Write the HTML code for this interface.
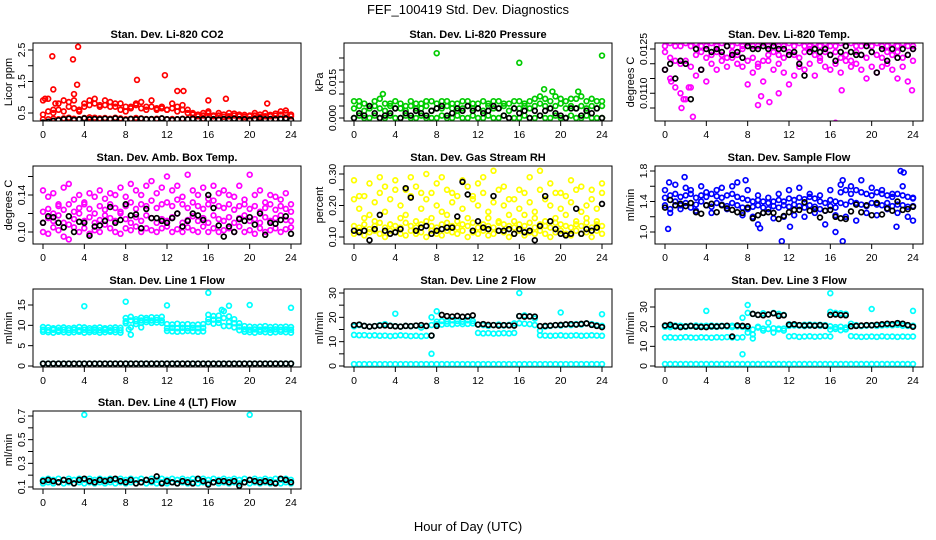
<!DOCTYPE html>
<html><head><meta charset="utf-8">
<style>
html,body{margin:0;padding:0;background:#fff;}
svg{display:block;font-family:"Liberation Sans",sans-serif;}
</style></head>
<body>
<svg id="chart" width="936" height="540" viewBox="0 0 936 540" xmlns="http://www.w3.org/2000/svg">
<rect x="0" y="0" width="936" height="540" fill="#fff"/>
<text x="468" y="14" font-size="13" text-anchor="middle">FEF_100419  Std. Dev. Diagnostics</text>
<text x="468" y="531" font-size="13" text-anchor="middle">Hour of Day (UTC)</text>
</svg>
<script>
const hours=[0,0.5,1,1.5,2,2.5,3,3.5,4,4.5,5,5.5,6,6.5,7,7.5,8,8.5,9,9.5,10,10.5,11,11.5,12,12.5,13,13.5,14,14.5,15,15.5,16,16.5,17,17.5,18,18.5,19,19.5,20,20.5,21,21.5,22,22.5,23,23.5,24];
const xTicks=[0,4,8,12,16,20,24];

// CO2
const co2Low=[0.3,0.3,0.32,0.3,0.33,0.35,0.32,0.3,0.34,0.36,0.35,0.33,0.34,0.32,0.35,0.33,0.3,0.32,0.34,0.33,0.31,0.3,0.32,0.33,0.3,0.31,0.3,0.32,0.3,0.31,0.3,0.32,0.3,0.31,0.3,0.29,0.3,0.31,0.3,0.32,0.3,0.31,0.3,0.29,0.3,0.31,0.3,0.3,0.28];
const co2Mid=[0.45,0.55,0.5,0.6,0.55,0.7,0.65,0.6,0.7,0.75,0.8,0.7,0.75,0.85,0.7,0.8,0.55,0.7,0.75,0.65,0.6,0.7,0.65,0.7,0.6,0.65,0.55,0.6,0.5,0.45,0.4,0.42,0.5,0.4,0.42,0.38,0.4,0.42,0.4,0.38,0.4,0.42,0.38,0.4,0.4,0.42,0.45,0.5,0.4];
const co2High=[0.9,0.95,0.6,0.8,0.9,0.85,0.9,0.55,0.8,0.9,0.95,0.75,0.9,0.7,0.8,0.6,0.7,0.65,0.8,0.85,0.7,0.9,0.6,0.65,0.6,0.8,0.7,0.75,0.6,0.5,0.45,0.5,0.55,0.42,0.5,0.45,0.5,0.48,0.45,0.44,0.42,0.5,0.45,0.5,0.44,0.48,0.55,0.58,0.45];
const co2OutX=[0.9,2.9,3.4,1.0,9.1,11.8,13.0,13.6,3.3,0.2,16.0,17.7,21.7,3.0,1.2];
const co2OutY=[2.3,2.2,2.6,1.25,1.55,1.7,1.2,1.2,1.4,0.95,0.9,0.95,0.8,1.1,0.8];
const co2Black=[0.2,0.22,0.25,0.27,0.3,0.32,0.28,0.3,0.33,0.3,0.31,0.3,0.32,0.3,0.33,0.3,0.28,0.31,0.3,0.32,0.3,0.31,0.3,0.33,0.3,0.28,0.3,0.31,0.3,0.32,0.3,0.31,0.3,0.3,0.29,0.31,0.3,0.32,0.3,0.3,0.28,0.31,0.33,0.3,0.31,0.3,0.32,0.33,0.28];

// Pressure
const presLow=[0,0.001,0,0,0.001,0,0,0.001,0,0,0.001,0,0,0.001,0,0,0,0.001,0,0,0.001,0,0,0.001,0,0,0.001,0,0,0.001,0,0,0,0.001,0,0,0.001,0,0,0.001,0,0,0.001,0,0,0.001,0,0,0];
const presMid=[0.004,0.005,0.003,0.004,0.005,0.004,0.003,0.005,0.004,0.004,0.003,0.005,0.004,0.004,0.005,0.003,0.004,0.004,0.005,0.004,0.003,0.004,0.005,0.004,0.004,0.003,0.005,0.004,0.004,0.005,0.003,0.004,0.004,0.005,0.004,0.005,0.006,0.005,0.004,0.005,0.006,0.004,0.005,0.004,0.005,0.004,0.005,0.004,0.005];
const presHigh=[0.007,0.007,0.006,0.005,0.007,0.008,0.006,0.006,0.007,0.006,0.005,0.007,0.006,0.006,0.007,0.007,0.006,0.007,0.007,0.006,0.006,0.007,0.007,0.006,0.006,0.007,0.006,0.007,0.007,0.006,0.006,0.007,0.007,0.006,0.007,0.008,0.009,0.008,0.007,0.009,0.008,0.007,0.008,0.008,0.009,0.007,0.008,0.007,0.007];
const presOutX=[8,16,24,2.8,18.4,21.7,19.2];
const presOutY=[0.027,0.023,0.026,0.010,0.012,0.011,0.011];
const presBlack=[0,0.002,0.001,0.005,0.002,0,0.001,0.002,0.004,0,0.002,0.001,0.003,0.002,0.001,0.003,0.004,0.005,0.001,0.002,0.004,0.003,0.005,0.003,0.004,0.002,0.003,0.005,0.004,0.001,0,0.004,0.002,0.003,0,0.003,0.001,0.003,0.004,0.002,0.001,0,0.004,0.004,0.001,0.003,0.002,0.004,0];

// Li-820 Temp
const tempTop=[0.0126,0.0127,0.0126,0.0126,0.0127,0.0126,0.0127,0.0126,0.0126,0.0127,0.0126,0.0127,0.0126,0.0126,0.0127,0.0126,0.0127,0.0126,0.0126,0.0127,0.0126,0.0127,0.0126,0.0126,0.0127,0.0126,0.0127,0.0126,0.0126,0.0127,0.0126,0.0127,0.0126,0.0126,0.0127,0.0126,0.0127,0.0126,0.0126,0.0127,0.0126,0.0127,0.0126,0.0126,0.0127,0.0126,0.0127,0.0126,0.0126];
const tempMid=[0.0124,0.0122,0.0121,0.0120,0.0121,0.0119,0.0123,0.0124,0.0122,0.0123,0.0124,0.0123,0.0122,0.0124,0.0123,0.0125,0.0121,0.0122,0.0120,0.0121,0.0123,0.0124,0.0123,0.0122,0.0124,0.0123,0.0122,0.0124,0.0125,0.0123,0.0122,0.0124,0.0123,0.0124,0.0122,0.0123,0.0121,0.0124,0.0123,0.0122,0.0124,0.0123,0.0122,0.0124,0.0123,0.0124,0.0122,0.0123,0.0125];
const tempLow=[0.0118,0.0115,0.0112,0.0110,0.0108,0.0112,0.0116,0.0118,0.0114,0.0120,0.0118,0.0121,0.0119,0.0122,0.0120,0.0119,0.0113,0.0117,0.0119,0.0114,0.0121,0.0118,0.0120,0.0117,0.0113,0.0116,0.0119,0.0118,0.0120,0.0116,0.0121,0.0119,0.0118,0.0120,0.0117,0.0121,0.0119,0.0120,0.0118,0.0115,0.0119,0.0117,0.0119,0.0120,0.0118,0.0115,0.0119,0.0114,0.0121];
const tempOutX=[1.6,2.7,1.8,16.5,9.0,9.3,10.1,23.9,17.1,2.3,0.6,11.0];
const tempOutY=[0.0105,0.0102,0.0108,0.0100,0.0106,0.0109,0.0107,0.0111,0.0111,0.0112,0.0114,0.0110];
const tempBlack=[0.0118,0.0120,0.0115,0.0121,0.0120,0.0108,0.0125,0.0118,0.0125,0.0124,0.0125,0.0124,0.0126,0.0123,0.0124,0.0122,0.0126,0.0125,0.0125,0.0126,0.0125,0.0126,0.0125,0.0125,0.0123,0.0124,0.0120,0.0116,0.0124,0.0125,0.0124,0.0125,0.0123,0.0121,0.0124,0.0126,0.0124,0.0123,0.0123,0.0126,0.0124,0.0117,0.0125,0.0121,0.0125,0.0122,0.0125,0.0123,0.0125];

// Amb box temp
const boxA=[0.11,0.115,0.112,0.118,0.11,0.108,0.114,0.12,0.112,0.116,0.11,0.113,0.118,0.115,0.112,0.12,0.114,0.11,0.116,0.112,0.118,0.115,0.11,0.114,0.112,0.116,0.12,0.11,0.113,0.117,0.112,0.115,0.11,0.118,0.114,0.112,0.116,0.11,0.115,0.118,0.112,0.114,0.11,0.116,0.112,0.115,0.118,0.113,0.112];
const boxB=[0.122,0.125,0.12,0.128,0.124,0.13,0.122,0.126,0.13,0.125,0.12,0.128,0.124,0.13,0.126,0.122,0.128,0.132,0.125,0.13,0.128,0.134,0.126,0.13,0.132,0.128,0.135,0.13,0.126,0.132,0.128,0.125,0.13,0.134,0.128,0.126,0.13,0.124,0.128,0.13,0.125,0.128,0.122,0.126,0.13,0.124,0.128,0.125,0.122];
const boxC=[0.145,0.138,0.142,0.13,0.148,0.152,0.135,0.14,0.132,0.142,0.138,0.145,0.136,0.142,0.14,0.148,0.138,0.152,0.145,0.14,0.15,0.155,0.142,0.148,0.16,0.145,0.15,0.138,0.162,0.145,0.14,0.148,0.136,0.15,0.142,0.145,0.14,0.138,0.15,0.135,0.162,0.14,0.145,0.132,0.14,0.138,0.135,0.142,0.13];
const boxD=[0.1,0.098,0.105,0.102,0.095,0.092,0.105,0.1,0.104,0.098,0.102,0.1,0.108,0.104,0.1,0.098,0.104,0.102,0.106,0.1,0.104,0.102,0.1,0.104,0.106,0.1,0.103,0.1,0.105,0.102,0.1,0.106,0.1,0.104,0.1,0.102,0.104,0.1,0.106,0.1,0.102,0.098,0.104,0.1,0.102,0.104,0.1,0.103,0.105];
const boxBlack=[0.11,0.117,0.116,0.11,0.105,0.117,0.1,0.111,0.11,0.096,0.106,0.107,0.112,0.127,0.11,0.113,0.13,0.118,0.119,0.104,0.125,0.115,0.115,0.112,0.11,0.115,0.12,0.106,0.112,0.12,0.118,0.113,0.14,0.126,0.107,0.095,0.106,0.1,0.114,0.112,0.116,0.108,0.12,0.097,0.11,0.109,0.113,0.117,0.098];

// Gas stream RH
const rhA=[0.11,0.12,0.105,0.115,0.12,0.11,0.1,0.12,0.115,0.11,0.105,0.12,0.11,0.115,0.1,0.12,0.11,0.105,0.12,0.115,0.11,0.12,0.1,0.115,0.11,0.12,0.105,0.11,0.12,0.115,0.1,0.11,0.12,0.105,0.115,0.11,0.12,0.11,0.1,0.115,0.12,0.11,0.105,0.12,0.11,0.115,0.1,0.12,0.11];
const rhB=[0.135,0.13,0.14,0.125,0.135,0.145,0.13,0.14,0.135,0.13,0.145,0.135,0.13,0.14,0.15,0.135,0.13,0.14,0.145,0.135,0.13,0.14,0.135,0.145,0.13,0.14,0.135,0.13,0.145,0.14,0.135,0.13,0.14,0.135,0.145,0.13,0.14,0.135,0.13,0.145,0.14,0.135,0.13,0.14,0.135,0.145,0.13,0.14,0.135];
const rhC=[0.22,0.19,0.23,0.17,0.21,0.24,0.18,0.22,0.25,0.2,0.17,0.23,0.26,0.19,0.22,0.24,0.2,0.18,0.25,0.21,0.23,0.19,0.26,0.22,0.2,0.24,0.18,0.21,0.25,0.2,0.17,0.22,0.19,0.24,0.21,0.18,0.25,0.22,0.2,0.24,0.19,0.23,0.21,0.25,0.18,0.2,0.22,0.19,0.24];
const rhD=[0.28,0.23,0.16,0.27,0.15,0.29,0.26,0.14,0.28,0.16,0.25,0.29,0.15,0.24,0.3,0.16,0.27,0.29,0.17,0.24,0.15,0.28,0.16,0.23,0.27,0.29,0.16,0.31,0.15,0.26,0.22,0.15,0.25,0.17,0.29,0.16,0.31,0.15,0.27,0.16,0.24,0.17,0.28,0.15,0.26,0.16,0.25,0.15,0.27];
const rhBlack=[0.12,0.115,0.12,0.09,0.125,0.17,0.12,0.11,0.115,0.125,0.255,0.225,0.12,0.13,0.135,0.11,0.12,0.125,0.13,0.13,0.165,0.275,0.235,0.12,0.15,0.13,0.125,0.23,0.12,0.12,0.125,0.11,0.125,0.115,0.12,0.09,0.135,0.23,0.15,0.125,0.11,0.105,0.11,0.19,0.11,0.125,0.12,0.13,0.205];

// Sample flow
const sfA=[1.35,1.3,1.4,1.35,1.38,1.32,1.36,1.4,1.35,1.33,1.38,1.36,1.34,1.38,1.35,1.32,1.3,1.33,1.35,1.32,1.3,1.34,1.32,1.35,1.33,1.36,1.34,1.32,1.35,1.33,1.3,1.28,1.34,1.32,1.38,1.36,1.4,1.38,1.36,1.34,1.38,1.36,1.35,1.38,1.34,1.36,1.35,1.33,1.34];
const sfB=[1.45,1.48,1.5,1.46,1.48,1.5,1.45,1.48,1.46,1.5,1.47,1.45,1.48,1.5,1.46,1.44,1.42,1.4,1.42,1.4,1.38,1.4,1.42,1.4,1.44,1.42,1.45,1.43,1.46,1.44,1.4,1.38,1.42,1.4,1.52,1.55,1.5,1.55,1.52,1.5,1.48,1.52,1.5,1.48,1.46,1.5,1.48,1.46,1.44];
const sfC=[1.55,1.25,1.62,1.3,1.58,1.55,1.28,1.6,1.52,1.25,1.55,1.58,1.3,1.6,1.65,1.22,1.55,1.2,1.48,1.25,1.45,1.18,1.5,1.2,1.55,1.22,1.58,1.2,1.5,1.25,1.48,1.1,1.55,1.22,1.62,1.2,1.6,1.15,1.68,1.25,1.58,1.22,1.55,1.3,1.5,1.25,1.6,1.2,1.45];
const sfOutX=[0.3,1.9,7.8,9.2,11.3,12.1,16.5,17.2,17.2,22.4,22.8,23.1,24,0.4,9.0];
const sfOutY=[1.04,1.72,1.68,1.05,0.88,1.07,1.0,0.88,1.68,1.07,1.8,1.78,1.15,1.65,1.1];
const sfBlack=[1.32,1.42,1.35,1.37,1.34,1.38,1.26,1.24,1.35,1.37,1.26,1.35,1.31,1.29,1.26,1.25,1.32,1.18,1.22,1.25,1.26,1.25,1.17,1.21,1.26,1.29,1.29,1.39,1.28,1.3,1.19,1.28,1.29,1.2,1.18,1.17,1.27,1.36,1.26,1.35,1.22,1.38,1.23,1.31,1.28,1.4,1.29,1.3,1.33];

// Line 1
const l1Up=[9.6,9.5,9.3,9.4,9.5,9.3,9.4,9.6,9.5,9.3,9.4,9.5,9.3,9.4,9.5,9.4,11.8,12.1,11.5,11.9,11.8,12,11.9,12.1,10.3,10.2,10.4,10.2,10.3,10.1,10.2,10.3,12.6,12.3,12.4,13.5,12.2,11.5,10.5,9.8,9.7,9.6,9.7,9.8,9.6,9.7,9.6,9.7,9.6];
const l1Mid=[8.9,8.8,8.9,8.8,8.9,8.8,8.9,8.8,8.9,8.8,8.9,8.8,8.9,8.8,8.9,8.8,11,11.2,11,11.2,11.3,11.2,11.3,11.2,9.3,9.4,9.3,9.4,9.3,9.4,9.3,9.4,11.5,11.4,11.3,11.8,10.8,10.5,9.7,9,8.9,9,8.9,9,8.9,9,8.9,9,8.9];
const l1Low=[8.4,8.3,8.2,8.4,8.3,8.2,8.3,8.4,8.2,8.3,8.4,8.2,8.3,8.4,8.3,8.2,10.5,9.5,10.3,10.6,10.8,10.6,10.7,10.6,8.6,8.5,8.4,8.5,8.6,8.5,8.4,8.5,10.8,10.4,10.6,9.8,9.8,9.5,8.8,8.4,8.3,8.2,8.4,8.3,8.2,8.3,8.4,8.3,8.2];
const l1Base=[0.6,0.6,0.6,0.6,0.6,0.6,0.6,0.6,0.6,0.6,0.6,0.6,0.6,0.6,0.6,0.6,0.6,0.6,0.6,0.6,0.6,0.6,0.6,0.6,0.6,0.6,0.6,0.6,0.6,0.6,0.6,0.6,0.6,0.6,0.6,0.6,0.6,0.6,0.6,0.6,0.6,0.6,0.6,0.6,0.6,0.6,0.6,0.6,0.6];
const l1OutX=[4,8,12,16,18,20,24,8.3,8.5,17.3,9.5];
const l1OutY=[14.7,15.8,14.9,18,14.8,15,14.3,9,7.7,13.8,9.5];
const l1Black=[0.6,0.6,0.6,0.6,0.6,0.6,0.6,0.6,0.6,0.6,0.6,0.6,0.6,0.6,0.6,0.6,0.6,0.6,0.6,0.6,0.6,0.6,0.6,0.6,0.6,0.6,0.6,0.6,0.6,0.6,0.6,0.6,0.6,0.6,0.6,0.6,0.6,0.6,0.6,0.6,0.6,0.6,0.6,0.6,0.6,0.6,0.6,0.6,0.6];

// Line 2
const l2Low=[12.8,12.6,12.7,12.5,12.6,12.4,12.5,12.3,12.4,12.6,12.5,12.3,12.4,12.2,12.4,12.5,17.2,17,17.3,17.1,17.4,17.2,17.3,17.5,13.6,13.4,13.5,13.3,13.4,13.5,13.4,13.6,17.6,17.4,17.2,16.8,12.6,12.5,12.4,12.5,12.6,12.4,12.5,12.6,12.4,12.5,12.6,12.5,12.4];
const l2Up=[16.3,16.8,16.5,16.2,16.4,16.8,17.2,16.6,16.4,16.2,16.5,16.3,16.6,15.8,16.4,16.8,18.2,18.5,18.3,18.8,18.5,18.2,18.8,18.5,17,16.8,16.5,16.8,17,16.6,16.9,17.5,20.5,20.8,20.4,19.5,14.5,16.2,16.5,16.8,16.6,17,16.8,17.2,17,17.5,17.2,16.8,16.5];
const l2Base=[0.8,0.8,0.8,0.8,0.8,0.8,0.8,0.8,0.8,0.8,0.8,0.8,0.8,0.8,0.8,0.8,0.8,0.8,0.8,0.8,0.8,0.8,0.8,0.8,0.8,0.8,0.8,0.8,0.8,0.8,0.8,0.8,0.8,0.8,0.8,0.8,0.8,0.8,0.8,0.8,0.8,0.8,0.8,0.8,0.8,0.8,0.8,0.8,0.8];
const l2OutX=[4,7.5,7.5,8,16,20,24];
const l2OutY=[21.5,5,20,22.5,30,22,21.3];
const l2Black=[16.8,17,16.5,16.2,16.4,16.6,16.7,16.5,16.3,16.2,16.5,16.4,16.6,16.8,16.5,12.5,16.5,21,20.5,20.3,20.6,20.2,20.4,20.8,17,17.2,16.9,16.8,16.6,16.8,16.7,16.6,20.5,20.3,20.4,20.3,16.4,16.5,16.6,16.8,16.9,17.1,17.2,17,17.3,17.5,16.9,16.5,16];

// Line 3
const l3Low=[14.5,14.6,14.4,14.5,14.7,14.5,14.4,14.6,14.5,14.4,14.6,14.5,14.7,14.5,14.4,14.6,19,18.5,19.5,19,18.8,19.2,18.6,19,15,15.2,14.8,15,15.1,14.9,15,15.2,18.5,18.8,18.2,18.6,15.2,15,14.8,14.9,15,14.8,15.1,14.9,15,14.8,15,14.9,15];
const l3Up=[20.5,20.4,20.6,20.5,20.3,20.5,20.6,20.4,20.5,20.6,20.4,20.5,20.3,20.5,20.6,20.4,27,26.5,26,26.8,26.2,27,26.5,26,21.2,21,20.8,21,21.1,20.9,21,20.8,27.5,27,26.8,26.5,21.5,20.8,20.5,20.6,20.8,20.5,20.7,20.9,20.8,21,20.6,20.8,20.5];
const l3Mid=[20,19.8,20.1,20,19.9,20.2,20,19.8,20.1,20,19.9,20.2,20,19.8,20.1,19.9,17,16,20,18,22,17,19,18,20.4,20.6,20.5,20.3,20.5,20.6,20.4,20.5,20.2,19.8,20,19.6,20.2,20.4,20.3,20.5,20.6,20.4,20.6,20.8,20.7,20.9,20.5,20.4,20.2];
const l3Base=[1,1,1,1,1,1,1,1,1,1,1,1,1,1,1,1,1,1,1,1,1,1,1,1,1,1,1,1,1,1,1,1,1,1,1,1,1,1,1,1,1,1,1,1,1,1,1,1,1];
const l3OutX=[4,7.5,7.5,8,16,20,24,16,8.5];
const l3OutY=[28,24.5,6,31,37,29,28,15,14];
const l3Black=[20.6,21,20.2,19.8,20.1,20.4,20,19.9,19.8,20.2,20.1,20.3,20.5,15,20.6,20.4,20.2,26.5,26,25.8,26.2,26.8,25.5,25.8,21,21.2,20.8,20.6,20.7,20.5,20.8,20.4,26,26.2,25.9,25.8,20.2,20.4,20.6,20.8,20.7,21,21.2,21.5,21.3,21.8,21.5,20.8,20];

// Line 4
const l4Up=[0.16,0.17,0.16,0.17,0.16,0.17,0.16,0.17,0.16,0.17,0.16,0.17,0.16,0.17,0.16,0.17,0.16,0.17,0.16,0.17,0.16,0.17,0.16,0.17,0.16,0.17,0.16,0.17,0.16,0.17,0.16,0.17,0.16,0.17,0.16,0.17,0.16,0.17,0.16,0.17,0.16,0.17,0.16,0.17,0.16,0.17,0.16,0.17,0.16];
const l4Low=[0.13,0.14,0.13,0.14,0.13,0.14,0.13,0.14,0.13,0.14,0.13,0.14,0.13,0.14,0.13,0.14,0.13,0.14,0.13,0.14,0.13,0.14,0.13,0.14,0.13,0.14,0.13,0.14,0.13,0.14,0.13,0.14,0.13,0.14,0.13,0.14,0.13,0.14,0.13,0.14,0.13,0.14,0.13,0.14,0.13,0.14,0.13,0.14,0.13];
const l4OutX=[4,20];
const l4OutY=[0.71,0.71];
const l4Black=[0.15,0.16,0.15,0.14,0.16,0.15,0.13,0.16,0.17,0.15,0.14,0.16,0.15,0.16,0.17,0.15,0.14,0.16,0.13,0.14,0.16,0.15,0.19,0.13,0.15,0.14,0.13,0.15,0.14,0.13,0.17,0.15,0.12,0.14,0.15,0.15,0.14,0.15,0.11,0.14,0.16,0.15,0.14,0.15,0.14,0.13,0.17,0.16,0.14];

const NS="http://www.w3.org/2000/svg";
const svg=document.getElementById('chart');
const colL=[33,344,655], rowT=[43,166,289,411], BW=268, BH=78;

function mk(tag,attrs,parent){const e=document.createElementNS(NS,tag);for(const k in attrs)e.setAttribute(k,attrs[k]);(parent||svg).appendChild(e);return e;}

const panels=[
 {name:'co2',title:'Stan. Dev. Li-820 CO2',ylab:'Licor ppm',c:0,r:0,ref:[0.5,113,2.5,50],ticks:[0.5,1,1.5,2,2.5],labels:['0.5','','1.5','','2.5'],
  series:[[hours,co2Low,'#ff0000'],[hours,co2Mid,'#ff0000'],[hours,co2High,'#ff0000'],[co2OutX,co2OutY,'#ff0000'],[hours,co2Black,'#000']]},
 {name:'pressure',title:'Stan. Dev. Li-820 Pressure',ylab:'kPa',c:1,r:0,ref:[0,118,0.015,82],ticks:[0,0.005,0.01,0.015,0.02,0.025],labels:['0.000','','','0.015','',''],
  series:[[hours,presLow,'#00cc00'],[hours,presMid,'#00cc00'],[hours,presHigh,'#00cc00'],[presOutX,presOutY,'#00cc00'],[hours,presBlack,'#000']]},
 {name:'li820-temp',title:'Stan. Dev. Li-820 Temp.',ylab:'degrees C',c:2,r:0,ref:[0.0125,49,0.0105,108],ticks:[0.0105,0.011,0.0115,0.012,0.0125],labels:['','0.0110','','','0.0125'],
  series:[[hours,tempTop,'#ff00ff'],[hours,tempMid,'#ff00ff'],[hours,tempLow,'#ff00ff'],[tempOutX,tempOutY,'#ff00ff'],[hours,tempBlack,'#000']]},
 {name:'box-temp',title:'Stan. Dev. Amb. Box Temp.',ylab:'degrees C',c:0,r:1,ref:[0.10,232,0.14,195],ticks:[0.10,0.12,0.14,0.16],labels:['0.10','','0.14',''],
  series:[[hours,boxA,'#ff00ff'],[hours,boxB,'#ff00ff'],[hours,boxC,'#ff00ff'],[hours,boxD,'#ff00ff'],[hours,boxBlack,'#000']]},
 {name:'gas-rh',title:'Stan. Dev. Gas Stream RH',ylab:'percent',c:1,r:1,ref:[0.10,237,0.30,174],ticks:[0.10,0.15,0.20,0.25,0.30],labels:['0.10','','0.20','','0.30'],
  series:[[hours,rhA,'#ffff00'],[hours,rhB,'#ffff00'],[hours,rhC,'#ffff00'],[hours,rhD,'#ffff00'],[hours,rhBlack,'#000']]},
 {name:'sample-flow',title:'Stan. Dev. Sample Flow',ylab:'ml/min',c:2,r:1,ref:[1.0,232,1.8,171],ticks:[1.0,1.2,1.4,1.6,1.8],labels:['1.0','','1.4','','1.8'],
  series:[[hours,sfA,'#0000ff'],[hours,sfB,'#0000ff'],[hours,sfC,'#0000ff'],[sfOutX,sfOutY,'#0000ff'],[hours,sfBlack,'#000']]},
 {name:'line1-flow',title:'Stan. Dev. Line 1 Flow',ylab:'ml/min',c:0,r:2,ref:[0,366,15,305],ticks:[0,5,10,15],labels:['0','5','10','15'],
  series:[[hours,l1Up,'#00ffff'],[hours,l1Mid,'#00ffff'],[hours,l1Low,'#00ffff'],[hours,l1Base,'#00ffff'],[l1OutX,l1OutY,'#00ffff'],[hours,l1Black,'#000']]},
 {name:'line2-flow',title:'Stan. Dev. Line 2 Flow',ylab:'ml/min',c:1,r:2,ref:[0,366,30,293],ticks:[0,5,10,15,20,25,30],labels:['0','','10','','20','','30'],
  series:[[hours,l2Low,'#00ffff'],[hours,l2Up,'#00ffff'],[hours,l2Base,'#00ffff'],[l2OutX,l2OutY,'#00ffff'],[hours,l2Black,'#000']]},
 {name:'line3-flow',title:'Stan. Dev. Line 3 Flow',ylab:'ml/min',c:2,r:2,ref:[0,366,30,307],ticks:[0,10,20,30],labels:['0','10','20','30'],
  series:[[hours,l3Low,'#00ffff'],[hours,l3Mid,'#00ffff'],[hours,l3Up,'#00ffff'],[hours,l3Base,'#00ffff'],[l3OutX,l3OutY,'#00ffff'],[hours,l3Black,'#000']]},
 {name:'line4-flow',title:'Stan. Dev. Line 4 (LT) Flow',ylab:'ml/min',c:0,r:3,ref:[0.1,487,0.7,416],ticks:[0.1,0.2,0.3,0.4,0.5,0.6,0.7],labels:['0.1','','0.3','','0.5','','0.7'],
  series:[[hours,l4Up,'#00ffff'],[hours,l4Low,'#00ffff'],[l4OutX,l4OutY,'#00ffff'],[hours,l4Black,'#000']]}
];

panels.forEach((p,pi)=>{
  const L=colL[p.c], T=rowT[p.r], B=T+BH;
  const xs=h=>L+10+h*(BW-20)/24;
  const [v0,p0,v1,p1]=p.ref;
  const ys=v=>p0+(v-v0)*(p1-p0)/(v1-v0);
  const g=mk('g',{});
  
  
  const cp=mk('clipPath',{id:'clip'+pi},g);
  mk('rect',{x:L,y:T,width:BW,height:BH},cp);
  const t=mk('text',{x:L+BW/2,y:T-5,'font-size':11,'font-weight':'bold','text-anchor':'middle'},g);
  t.textContent=p.title;
  
  
  const yl=mk('text',{x:0,y:0,'font-size':11,'text-anchor':'middle',transform:`translate(${L-21},${T+BH/2}) rotate(-90)`},g);
  yl.textContent=p.ylab;
  
  
  const marks=mk('g',{'clip-path':`url(#clip${pi})`,fill:'none','stroke-width':1.7},g);
  
  
  p.series.forEach(s=>{
    const [X,Y,col]=s;
    for(let i=0;i<Y.length&&i<X.length;i++){
      const c=mk('circle',{cx:xs(X[i]).toFixed(1),cy:ys(Y[i]).toFixed(1),r:2.4,stroke:col},marks);
      
      
    }
  });
  const box=mk('rect',{x:L,y:T,width:BW,height:BH,fill:'none',stroke:'#000','stroke-width':1},g);
  
  
  xTicks.forEach(h=>{
    const x=xs(h);
    mk('line',{x1:x,x2:x,y1:B,y2:B+5,stroke:'#000'},g);
    const tx=mk('text',{x:x,y:B+17,'font-size':10.5,'text-anchor':'middle'},g);
    tx.textContent=h;
    
    
  });
  p.ticks.forEach((v,i)=>{
    const y=ys(v);
    mk('line',{x1:L-5,x2:L,y1:y,y2:y,stroke:'#000'},g);
    if(p.labels[i]){
      const ty=mk('text',{x:0,y:0,'font-size':10.5,'text-anchor':'middle',transform:`translate(${L-8},${y}) rotate(-90)`},g);
      ty.textContent=p.labels[i];
      
      
    }
  });
});
</script>
</body></html>
